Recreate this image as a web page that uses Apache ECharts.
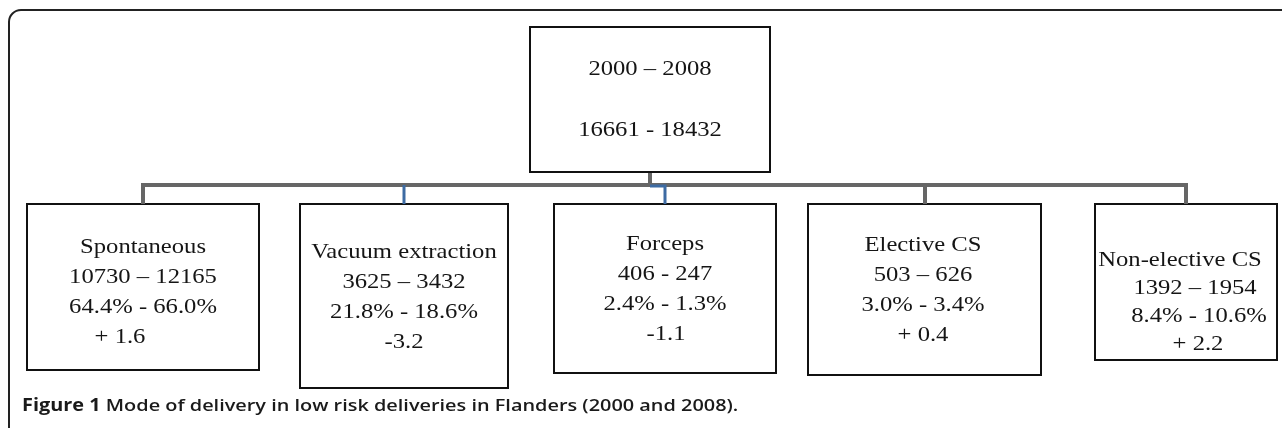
<!DOCTYPE html>
<html>
<head>
<meta charset="utf-8">
<title>Mode of delivery in low risk deliveries in Flanders</title>
<script src="https://cdn.jsdelivr.net/npm/echarts@6/dist/echarts.min.js"></script>
<style>
  html, body { margin: 0; padding: 0; background: #fff; }
  #chart { width: 1282px; height: 428px; }
</style>
</head>
<body>
<div id="chart"></div>
<script>
// ---- data ----
var years = [2000, 2008];
var totals = [16661, 18432];
var modes = ['Spontaneous', 'Vacuum extraction', 'Forceps', 'Elective CS', 'Non-elective CS'];
var count2000 = [10730, 3625, 406, 503, 1392];
var count2008 = [12165, 3432, 247, 626, 1954];
var pct2000 = [64.4, 21.8, 2.4, 3.0, 8.4];
var pct2008 = [66.0, 18.6, 1.3, 3.4, 10.6];
var change = [1.6, -3.2, -1.1, 0.4, 2.2];

// ---- styling (per box) ----
var countSep = [' – ', ' – ', ' - ', ' – ', ' – '];
var boxW = [232, 208, 222, 233, 182];
var boxH = [166, 184, 169, 171, 156];
var textTop = [43, 48, 40, 41, 56];
var lineGap = [30, 30, 30, 30, 28];
var lineShift = [[0, 0, 0, -23], [0, 0, 0, 0], [0, 0, 0, 1], [-2, -2, -2, -2], [-6, 9, 13, 12]];
var linkColor = ['#666666', '#3d6ba3', '#3d6ba3', '#666666', '#666666'];

var SERIF = '"Liberation Serif", "Times New Roman", serif';
var SANS = '"Open Sans", "Noto Sans", sans-serif';
var STRETCH = 1.12;
var busY = 185;
var rootShift = -15;

function fmtSigned(v) {
    return v >= 0 ? '+ ' + v.toFixed(1) : v.toFixed(1);
}

function txt(x, y, s) {
    return {
        type: 'text', x: x, y: y, scaleX: STRETCH, z2: 10,
        style: {
            text: s, fill: '#151515', fontSize: 22, fontFamily: SERIF,
            align: 'center', verticalAlign: 'middle'
        }
    };
}

var chart = echarts.init(document.getElementById('chart'));

var rootRender = function (params, api) {
    var p = api.coord([api.value(0), api.value(1)]);
    var cx = Math.round(p[0] + rootShift);
    var top = Math.round(p[1]);
    var w = 240, h = 145;
    var first = api.coord([0, 1]);
    var last = api.coord([modes.length - 1, 1]);
    return {
        type: 'group',
        children: [
            { type: 'line', shape: { x1: cx, y1: top + h, x2: cx, y2: busY }, style: { stroke: '#666666', lineWidth: 4 } },
            { type: 'line', shape: { x1: first[0] - 2, y1: busY, x2: last[0] + 2, y2: busY }, style: { stroke: '#666666', lineWidth: 4 } },
            { type: 'rect', shape: { x: cx - w / 2, y: top, width: w, height: h }, style: { fill: '#fff', stroke: '#111', lineWidth: 2 } },
            txt(cx, top + 42, years[0] + ' – ' + years[1]),
            txt(cx, top + 103, totals[0] + ' - ' + totals[1])
        ]
    };
};

var modeRender = function (params, api) {
    var i = params.dataIndex;
    var p = api.coord([api.value(0), api.value(1)]);
    var cx = Math.round(p[0]);
    var top = Math.round(p[1]);
    var w = boxW[i], h = boxH[i];
    var rootX = Math.round(api.coord([2, 0])[0] + rootShift);
    var link;
    if (i === 2) {
        link = { type: 'polyline', z2: 5, shape: { points: [[rootX, busY + 1], [cx, busY + 1], [cx, top]] }, style: { stroke: linkColor[i], lineWidth: 3, fill: null } };
    } else {
        link = { type: 'line', z2: 5, shape: { x1: cx, y1: busY, x2: cx, y2: top }, style: { stroke: linkColor[i], lineWidth: i === 1 ? 3 : 4 } };
    }
    var lines = [
        modes[i],
        count2000[i] + countSep[i] + count2008[i],
        pct2000[i].toFixed(1) + '% - ' + pct2008[i].toFixed(1) + '%',
        fmtSigned(change[i])
    ];
    var children = [
        link,
        { type: 'rect', shape: { x: cx - Math.round(w / 2), y: top, width: w, height: h }, style: { fill: '#fff', stroke: '#111', lineWidth: 2 } }
    ];
    lines.forEach(function (s, k) {
        children.push(txt(cx + lineShift[i][k], top + textTop[i] + k * lineGap[i], s));
    });
    return { type: 'group', children: children };
};

var option = {
    animation: false,
    backgroundColor: '#fff',
    graphic: [{
        type: 'rect', z: -10, silent: true,
        shape: { x: 9, y: 10, width: 1400, height: 500, r: [12, 0, 0, 0] },
        style: { fill: 'none', stroke: '#222', lineWidth: 2 }
    }, {
        type: 'text', left: 22, top: 398, scaleX: 1.17, silent: true,
        style: {
            text: '{b|Figure 1} Mode of delivery in low risk deliveries in Flanders (2000 and 2008).',
            fontFamily: SANS, fontSize: 17, fontWeight: 600, fill: '#1a1a1a',
            rich: {
                b: { fontFamily: SANS, fontSize: 17, fontWeight: 'bold', fill: '#1a1a1a' }
            }
        }
    }],
    grid: { left: 143, right: 96, top: 27, bottom: 224 },
    xAxis: { type: 'category', data: modes, boundaryGap: false, show: false },
    yAxis: { type: 'value', min: 0, max: 1, inverse: true, show: false },
    series: [
        { type: 'custom', name: 'total', renderItem: rootRender, data: [[2, 0]], clip: false },
        { type: 'custom', name: 'mode', renderItem: modeRender, data: modes.map(function (m, i) { return [i, 1]; }), clip: false }
    ]
};

chart.setOption(option);
</script>
</body>
</html>
